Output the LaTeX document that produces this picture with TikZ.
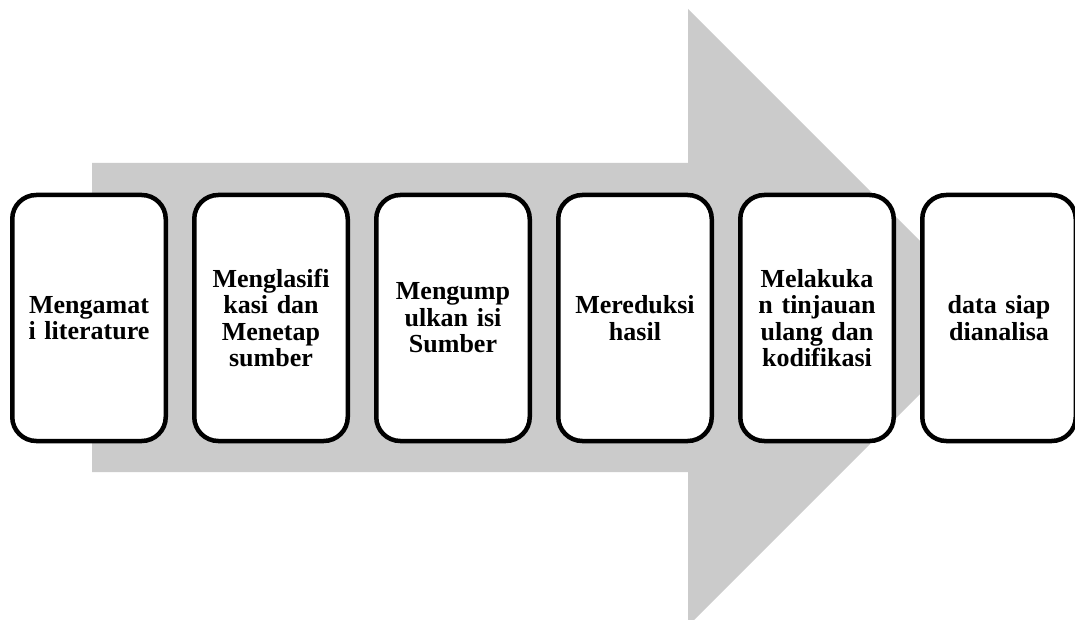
\documentclass[tikz,border=0pt]{standalone}
\usepackage{fontspec}
\setmainfont{Liberation Serif}
\usepackage{tikz}
\usetikzlibrary{positioning}
\definecolor{arrowgray}{RGB}{203,203,203}

\begin{document}
\begin{tikzpicture}[x=1pt,y=-1pt,
		stepbox/.style={draw,fill=white,line width=4.5pt,rounded corners=24pt,minimum width=153.5pt,minimum height=246pt,text width=140pt,align=center,font=\bfseries\fontsize{26}{26.5}\selectfont}]
		\useasboundingbox (0,0) rectangle (1075,620);
		
		\fill[arrowgray] (92,163) -- (688,163) -- (688,9) -- (996.5,317.5) -- (688,626) -- (688,472) -- (92,472) -- cycle;
		
		\node[stepbox] (s1) at (89,318) {Mengamat\\i literature};
		\node[stepbox,right=24pt of s1] (s2) {Menglasifi\\kasi dan\\Menetap\\sumber};
		\node[stepbox,right=24pt of s2] (s3) {Mengump\\ulkan isi\\Sumber};
		\node[stepbox,right=24pt of s3] (s4) {Mereduksi\\hasil};
		\node[stepbox,right=24pt of s4] (s5) {Melakuka\\n tinjauan\\ulang dan\\kodifikasi};
		\node[stepbox,right=24pt of s5] (s6) {data siap\\dianalisa};
		
	\end{tikzpicture}
\end{document}
